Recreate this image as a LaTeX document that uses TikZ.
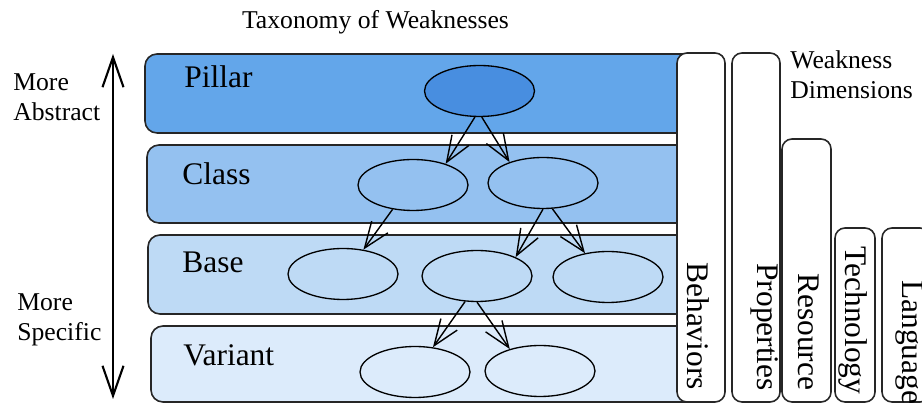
\documentclass[tikz,border=0pt]{standalone}
\usepackage{fontspec}
\setmainfont{Liberation Serif}
\usetikzlibrary{shapes.geometric,arrows.meta}

\definecolor{pillarblue}{HTML}{63A6EA}
\definecolor{pillardark}{HTML}{488EE0}
\definecolor{classblue}{HTML}{94C1F0}
\definecolor{baseblue}{HTML}{BEDAF5}
\definecolor{variantblue}{HTML}{DCEBFB}

\begin{document}
\begin{tikzpicture}[x=0.02cm, y=-0.02cm,
    >={Straight Barb[length=0.52cm,width=0.4cm]},
    layer/.style ={draw=black!85, line width=0.9pt, rounded corners=0.24cm},
    weak/.style ={ellipse, draw, line width=0.75pt, inner sep=0pt, minimum width=2.2cm, minimum height=1.02cm},
    dimbox/.style ={draw=black!85, fill=white, line width=0.9pt, rounded corners=0.2cm},
    lbl/.style ={inner sep=0pt, font=\fontsize{17.9}{21}\selectfont},
    note/.style ={inner sep=0pt, align=left, anchor=north west, font=\fontsize{14.6}{17}\selectfont},
    dim/.style ={lbl, rotate=-90, anchor=base west}]
   \path[use as bounding box, clip] (0,0) rectangle (922,404);

   % abstraction layers
   \path[layer, fill=pillarblue]  (145,54)  rectangle (700,133);
   \path[layer, fill=classblue]   (147,145) rectangle (700,223);
   \path[layer, fill=baseblue]    (148,235) rectangle (700,314);
   \path[layer, fill=variantblue] (151,326) rectangle (700,402);
   \node[lbl, anchor=base west] (pillar)  at (184,88)  {Pillar};
   \node[lbl, anchor=base west] (class)   at (182,185) {Class};
   \node[lbl, anchor=base west] (base)    at (182,273) {Base};
   \node[lbl, anchor=base west] (variant) at (183,366) {Variant};

   % weaknesses
   \node[weak, fill=pillardark]  (p)  at (479.5,91) {};
   \node[weak, fill=classblue]   (c1) at (413,185) {};
   \node[weak, fill=classblue]   (c2) at (543,183) {};
   \node[weak, fill=baseblue]    (b1) at (343,274) {};
   \node[weak, fill=baseblue]    (b2) at (477,276) {};
   \node[weak, fill=baseblue]    (b3) at (608,277) {};
   \node[weak, fill=variantblue] (v1) at (415,372) {};
   \node[weak, fill=variantblue] (v2) at (540,371) {};
   \draw[line width=0.8pt, ->] (p.260) -- (c1.33);
   \draw[line width=0.8pt, ->] (p.275) -- (c2.148);
   \draw[line width=0.8pt, ->] (c1.230) -- (b1.50);
   \draw[line width=0.8pt, ->] (c2.270) -- (b2.26);
   \draw[line width=0.8pt, ->] (c2.290) -- (b3.134);
   \draw[line width=0.8pt, ->] (b2.245) -- (v1.54);
   \draw[line width=0.8pt, ->] (b2.270) -- (v2.144);

   % weakness dimensions
   \path[dimbox] (677,53)  rectangle (725,402);
   \path[dimbox] (732,53)  rectangle (780,402);
   \path[dimbox] (782,139) rectangle (831,402);
   \path[dimbox] (835,228) rectangle (875,402);
   \path[dimbox] (882,228) rectangle (930,402);
   \node[dim] (behaviors)  at (687,262) {Behaviors};
   \node[dim] (properties) at (757,263) {Properties};
   \node[dim] (resource)   at (798,273) {Resource};
   \node[dim] (technology) at (845,246) {Technology};
   \node[dim] (language)   at (902,280) {Language};

   % captions
   \node[lbl, anchor=base, font=\fontsize{14.6}{17}\selectfont] (title) at (375.5,29) {Taxonomy of Weaknesses};
   \node[note] (abstract) at (13,73)   {More\\Abstract};
   \node[note] (specific) at (17,293)  {More\\Specific};
   \node[note] (dims)     at (790,50)  {Weakness\\Dimensions};
   \coordinate (top) at (113,54);
   \coordinate (bottom) at (113,399);
   \draw[<->, line width=1.2pt, >={Straight Barb[length=0.6cm,width=0.42cm]}] (top) -- (bottom);
 \end{tikzpicture}
\end{document}
